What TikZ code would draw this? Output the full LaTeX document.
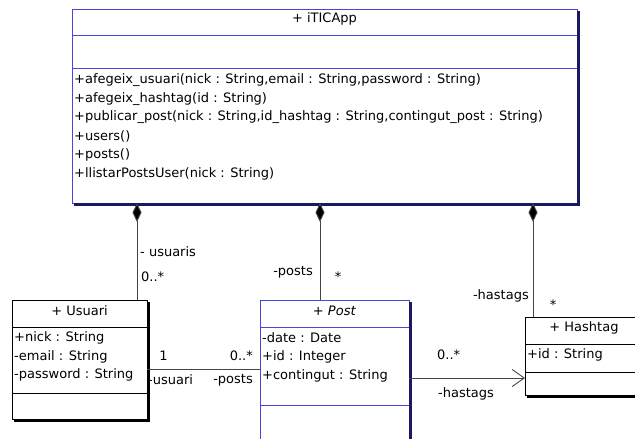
\documentclass[tikz,border=0pt]{standalone}
\usepackage{fontspec}
\setmainfont{DejaVu Sans}
\usetikzlibrary{arrows.meta}
\definecolor{umlblue}{RGB}{70,70,220}
\definecolor{umlshadow}{RGB}{25,25,95}
\definecolor{linegray}{RGB}{70,70,70}
\tikzset{
  box/.style={draw, line width=0.8pt, fill=white, inner sep=0pt, outer sep=0pt, anchor=north west},
  bluebox/.style={box, draw=umlblue},
  blackbox/.style={box, draw=black},
  shad/.style={line width=2.6pt},
  member/.style={anchor=west, inner sep=0pt},
  title/.style={anchor=center, inner sep=0pt},
  lbl/.style={inner sep=0pt},
  conn/.style={draw=linegray, line width=0.9pt},
  compo/.style={conn, {Diamond[width=9pt,length=19pt,fill=black]}-},
  nav/.style={conn, -{Straight Barb[length=12pt,width=17pt,line width=0.9pt]}},
}
\begin{document}
\begin{tikzpicture}[x=1pt,y=-1pt,font=\fontsize{13}{15}\selectfont]
\useasboundingbox (0,0) rectangle (635,439);
\clip (0,0) rectangle (635,439);

% ---- iTICApp
\node[bluebox, minimum width=505pt, minimum height=194pt] (app) at (72,9) {};
\draw[umlshadow, shad] ([shift={(1.6,2)}]app.north east) -- ([shift={(1.6,1.6)}]app.south east) -- ([shift={(2,1.6)}]app.south west);
\draw[umlblue, line width=0.8pt] (72,35) -- (577,35) (72,68) -- (577,68);
\node[title] (appname) at (324.5,19) {+ iTICApp};
\node[member] (m1) at (74,80) {+afegeix\_usuari(nick : String,email : String,password : String)};
\node[member] (m2) at (74,98.7) {+afegeix\_hashtag(id : String)};
\node[member] (m3) at (74,117.4) {+publicar\_post(nick : String,id\_hashtag : String,contingut\_post : String)};
\node[member] (m4) at (74,136.1) {+users()};
\node[member] (m5) at (74,154.8) {+posts()};
\node[member] (m6) at (74,173.5) {+llistarPostsUser(nick : String)};

% ---- Usuari
\node[blackbox, minimum width=135pt, minimum height=119pt] (usuari) at (12,300) {};
\draw[black, shad] ([shift={(1.6,2)}]usuari.north east) -- ([shift={(1.6,1.6)}]usuari.south east) -- ([shift={(2,1.6)}]usuari.south west);
\draw[black, line width=0.8pt] (12,327) -- (147,327) (12,393) -- (147,393);
\node[title] (uname) at (79.5,311) {+ Usuari};
\node[member] (u1) at (14,338) {+nick : String};
\node[member] (u2) at (14,356.5) {-email : String};
\node[member] (u3) at (14,375) {-password : String};

% ---- Post
\node[bluebox, minimum width=149pt, minimum height=160pt] (post) at (260,300) {};
\draw[umlshadow, shad] ([shift={(1.6,2)}]post.north east) -- ([shift={(1.6,1.6)}]post.south east);
\draw[umlblue, line width=0.8pt] (260,327) -- (409,327) (260,405) -- (409,405);
\node[title] (pname) at (334.5,311) {+ \textit{Post}};
\node[member] (p1) at (262,338) {-date : Date};
\node[member] (p2) at (262,357) {+id : Integer};
\node[member] (p3) at (262,376) {+contingut : String};

% ---- Hashtag
\node[blackbox, minimum width=130pt, minimum height=78pt] (hash) at (525,317) {};
\draw[black, shad] ([shift={(2,1.6)}]hash.south west) -- ([shift={(1.6,1.6)}]hash.south east);
\draw[black, line width=0.8pt] (525,344) -- (655,344) (525,372) -- (655,372);
\node[title] (hname) at (584,328) {+ Hashtag};
\node[member] (h1) at (527,355) {+id : String};

% ---- composition connectors
\coordinate (c1) at (137,203);
\coordinate (c2) at (320,203);
\coordinate (c3) at (533,203);
\draw[compo] (c1) -- (c1 |- usuari.north);
\draw[compo] (c2) -- (c2 |- post.north);
\draw[compo] (c3) -- (c3 |- hash.north);

\node[lbl, anchor=west] (l1) at (140,252) {- usuaris};
\node[lbl, anchor=west] (l2) at (141,277) {0..*};
\node[lbl, anchor=east] (l3) at (313,272) {-posts};
\node[lbl] (l4) at (338,277) {*};
\node[lbl, anchor=east] (l5) at (529,296) {-hastags};
\node[lbl] (l6) at (553,305) {*};

% ---- Usuari -- Post association
\coordinate (a1) at (147,369);
\draw[conn] (a1) -- (a1 -| post.west);
\node[lbl] (l7) at (163.5,356) {1};
\node[lbl, anchor=east] (l8) at (253,356) {0..*};
\node[lbl, anchor=west] (l9) at (148,380) {-usuari};
\node[lbl, anchor=east] (l10) at (253,380) {-posts};

% ---- Post -> Hashtag navigable association
\coordinate (b1) at (409,378);
\draw[nav] (b1) -- (b1 -| hash.west);
\node[lbl, anchor=west] (l11) at (437,355) {0..*};
\node[lbl, anchor=west] (l12) at (438,394) {-hastags};
\end{tikzpicture}
\end{document}
